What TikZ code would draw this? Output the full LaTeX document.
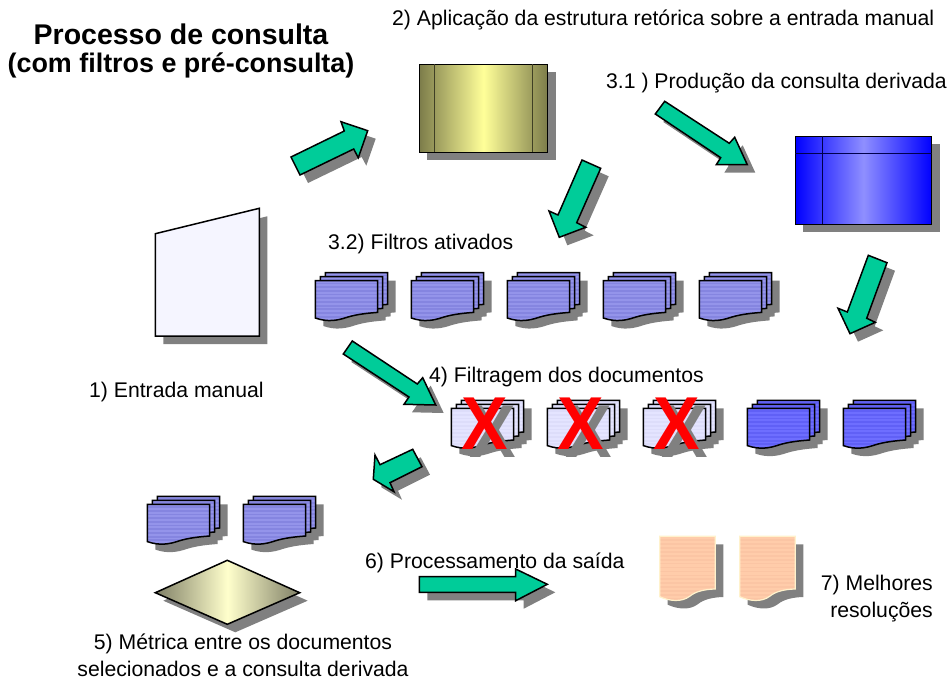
\documentclass[tikz,border=0pt]{standalone}
\usepackage{graphicx}
\usepackage{fontspec}
\setmainfont{Liberation Sans}
\definecolor{arrowgreen}{HTML}{00CC99}
\definecolor{shadowgray}{HTML}{808080}
\definecolor{oliveedge}{HTML}{7C7C4A}
\definecolor{olivemid}{HTML}{FFFF99}
\definecolor{oliveline}{HTML}{3F3F25}
\definecolor{bluemid}{HTML}{8F8FFF}
\definecolor{diaedge}{HTML}{7F7F66}
\definecolor{diamid}{HTML}{FFFFCC}
\definecolor{docbase}{HTML}{9494EA}
\definecolor{docstripe}{HTML}{8585E0}
\definecolor{palebase}{HTML}{E4E4FF}
\definecolor{palestripe}{HTML}{DDDDFA}
\definecolor{strongbase}{HTML}{6E6EFF}
\definecolor{strongstripe}{HTML}{6060F6}
\definecolor{peachbase}{HTML}{FFCCAA}
\definecolor{peachstripe}{HTML}{FBC5A4}
\definecolor{peachedge}{HTML}{FFF2CC}
\definecolor{inputfill}{HTML}{F5F5FF}
\tikzset{
  x=1pt,y=-1pt,
  shdw/.style={fill=shadowgray,draw=none},
  outline/.style={draw=black,line width=1.5pt,line join=miter},
  blockarrow/.style={outline,fill=arrowgreen},
  label/.style={inner sep=0pt,anchor=base west,font=\fontsize{21.2}{24}\selectfont,text=black},
  centerlabel/.style={inner sep=0pt,anchor=center,align=center,font=\fontsize{21.2}{27}\selectfont,text=black},
  titlelabel/.style={inner sep=0pt,anchor=center,align=center,font=\bfseries},
  crossmark/.style={inner sep=0pt,anchor=center,font=\bfseries\fontsize{75}{75}\selectfont},
}
\newcommand\crossglyph{\scalebox{.93}[1]{X}}
% polygon with drop shadow
\newcommand\shadowpoly[2]{%
  \fill[shdw,shift={(8,8)}] #2 -- cycle;
  \draw[#1] #2 -- cycle;}
% one striped sheet (document outline with wavy bottom)
\newcommand\sheetpath{(0,0) -- (62.3,0) -- (62.3,31.7) .. controls (52,32.5) and (42,33.5) .. (32,36.5) .. controls (22,40) and (12,41.5) .. (0,37.3) -- cycle}
\newcommand\onesheet[4]{%
  \begin{scope}[shift={(#1,#2)}]
    \fill[#3] \sheetpath;
    \begin{scope}
      \clip \sheetpath;
      \foreach \k in {1,...,11} {\draw[#4,line width=1.8pt] (0,3.7*\k-1) -- (63,3.7*\k-1);}
    \end{scope}
    \draw[outline] \sheetpath;
  \end{scope}}
\newcommand\docstack[4]{%
  \begin{scope}[shift={(#1,#2)}]
    \foreach \o in {0,5,10} {\fill[shdw,shift={(8+\o,8-0.8*\o)}] \sheetpath;}
    \onesheet{10}{-8}{#3}{#4}
    \onesheet{5}{-4}{#3}{#4}
    \onesheet{0}{0}{#3}{#4}
  \end{scope}}
\newcommand\peachpath{(0,0) -- (55.6,0) -- (55.6,52.7) .. controls (45,53) and (36,55) .. (30,60) .. controls (22,66) and (10,65) .. (0,60.4) -- cycle}
\newcommand\peachdoc[2]{%
  \begin{scope}[shift={(#1,#2)}]
    \fill[shdw,shift={(8,8)}] \peachpath;
    \fill[peachbase] \peachpath;
    \begin{scope}
      \clip \peachpath;
      \foreach \k in {1,...,16} {\draw[peachstripe,line width=1.6pt] (0,3.9*\k) -- (56,3.9*\k);}
    \end{scope}
    \draw[draw=peachedge,line width=1.2pt] \peachpath;
  \end{scope}}
\begin{document}
\begin{tikzpicture}
\useasboundingbox (0,0) rectangle (951,680);
\fill[white] (0,0) rectangle (951,680);

% yellow structure box
\fill[shdw] (427.3,72.3) rectangle (555.7,160.3);
\draw[outline,left color=oliveedge,right color=oliveedge,middle color=olivemid] (419.3,64.3) rectangle (547.7,152.3);
\draw[oliveline,line width=1.5pt] (434.7,64.3) -- (434.7,152.3) (532.3,64.3) -- (532.3,152.3);

% blue derived-query box
\fill[shdw] (803.3,144.3) rectangle (939.7,232.3);
\draw[outline,left color=blue,right color=blue,middle color=bluemid] (795.3,136.3) rectangle (931.7,224.3);
\draw[draw=black!70!blue,line width=1.5pt] (822.3,136.3) -- (822.3,224.3) (795.3,153.3) -- (931.7,153.3);

% manual input sheet
\shadowpoly{outline,fill=inputfill}{(155.3,233.7) -- (259.3,208.3) -- (259.3,336) -- (155.3,336)}

% activated filters
\docstack{315.3}{280.7}{docbase}{docstripe}
\docstack{411.3}{280.7}{docbase}{docstripe}
\docstack{507.3}{280.7}{docbase}{docstripe}
\docstack{603.3}{280.7}{docbase}{docstripe}
\docstack{699.3}{280.7}{docbase}{docstripe}

% filtered documents
\docstack{451.3}{408.3}{palebase}{palestripe}
\docstack{547.3}{408.3}{palebase}{palestripe}
\docstack{643.3}{408.3}{palebase}{palestripe}
\docstack{747.3}{408.3}{strongbase}{strongstripe}
\docstack{843.3}{408.3}{strongbase}{strongstripe}

% crosses
\node[crossmark,text=shadowgray] (xs1) at (493,432) {\crossglyph};
\node[crossmark,text=shadowgray] (xs2) at (589,432) {\crossglyph};
\node[crossmark,text=shadowgray] (xs3) at (685,432) {\crossglyph};
\node[crossmark,text=red] (x1) at (485,424) {\crossglyph};
\node[crossmark,text=red] (x2) at (581,424) {\crossglyph};
\node[crossmark,text=red] (x3) at (677,424) {\crossglyph};

% selected documents
\docstack{147.3}{504.3}{docbase}{docstripe}
\docstack{243.3}{504.3}{docbase}{docstripe}

% metric diamond
\fill[shdw,shift={(8,8)}] (227.3,560.3) -- (299.7,592.7) -- (227.3,624.3) -- (155.3,592.7) -- cycle;
\draw[outline,left color=diaedge,right color=diaedge,middle color=diamid] (227.3,560.3) -- (299.7,592.7) -- (227.3,624.3) -- (155.3,592.7) -- cycle;

% best results
\peachdoc{659.7}{536.3}
\peachdoc{739.7}{536.3}

% block arrows
\shadowpoly{blockarrow}{(291,157) -- (344.3,131) -- (341,121.7) -- (367.7,130.7) -- (358.3,157.7) -- (353.7,149) -- (300,175)}
\shadowpoly{blockarrow}{(655.3,114) -- (664.7,101.3) -- (729.3,143.3) -- (734.7,137.3) -- (747.3,164.7) -- (716.3,164.7) -- (720.7,157.7)}
\shadowpoly{blockarrow}{(582,160) -- (600.7,168.3) -- (576.7,222.7) -- (585.7,227.3) -- (559.3,237.3) -- (549,211) -- (558,215)}
\shadowpoly{blockarrow}{(868.3,255.3) -- (887,262.7) -- (866.7,318.3) -- (875.3,322.3) -- (850,333.7) -- (838,308.3) -- (847.3,312)}
\shadowpoly{blockarrow}{(343.3,354) -- (352.3,341) -- (417.3,384) -- (422.7,377.7) -- (435.7,405) -- (404,404.3) -- (409,397)}
\shadowpoly{blockarrow}{(412.7,449.3) -- (422,466.7) -- (390,482.7) -- (394,491.7) -- (373.3,479.3) -- (375,455) -- (380,464.7)}
\shadowpoly{blockarrow}{(419.3,576.7) -- (515.7,576.7) -- (515.7,569) -- (547.3,584.3) -- (515.7,600.7) -- (515.7,592.3) -- (419.3,592.3)}

% labels
\node[titlelabel,font=\bfseries\fontsize{28.5}{29}\selectfont] (title) at (181,51) {Processo de consulta\\[-1pt]{\fontsize{26.9}{29}\selectfont (com filtros e pré-consulta)}};
\node[label] (l2) at (392,25) {2) Aplicação da estrutura retórica sobre a entrada manual};
\node[label] (l31) at (606,88) {3.1 ) Produção da consulta derivada};
\node[label] (l32) at (328,249) {3.2) Filtros ativados};
\node[label] (l1) at (89,397) {1) Entrada manual};
\node[label] (l4) at (429,382) {4) Filtragem dos documentos};
\node[label] (l6) at (365,568) {6) Processamento da saída};
\node[centerlabel,align=right,anchor=north east] (l7) at (933,574.5) {7) Melhores\\resoluções};
\node[centerlabel] (l5) at (243,655) {5) Métrica entre os documentos\\selecionados e a consulta derivada};
\end{tikzpicture}
\end{document}
